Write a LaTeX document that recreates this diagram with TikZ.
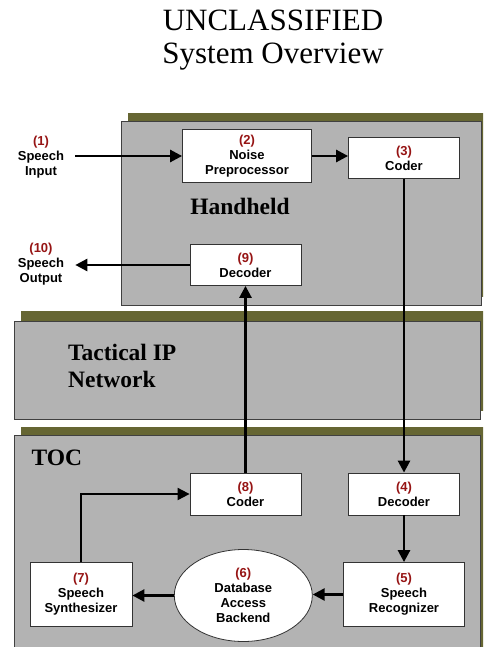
\documentclass[tikz,border=0pt]{standalone}
\usepackage{fontspec}
\setmainfont{Liberation Serif}
\setsansfont{Liberation Sans}
\usetikzlibrary{arrows.meta, shapes.geometric}
\definecolor{panelgray}{RGB}{179,179,179}
\definecolor{shadowolive}{RGB}{102,102,51}
\definecolor{numred}{RGB}{150,20,20}
\newcommand{\stepno}[1]{\textcolor{numred}{#1}}

\tikzset{
  blk/.style={draw=black!80, line width=0.8pt, fill=white, align=center,
    font=\sffamily\bfseries\fontsize{13}{15}\selectfont, inner sep=0pt},
  lbl/.style={align=center, font=\sffamily\bfseries\fontsize{13}{15}\selectfont, inner sep=0pt},
  arr/.style={line width=2.6pt, -{Triangle[length=12pt,width=12pt]}},
  panel/.style={fill=panelgray, draw=black!75, line width=0.8pt},
  shade/.style={fill=shadowolive},
  panelname/.style={font=\bfseries\fontsize{23.5}{27}\selectfont, inner sep=0pt, align=left},
}

\begin{document}
\begin{tikzpicture}[x=1pt, y=-1pt]

        \useasboundingbox (0,0) rectangle (483,647);
        \clip (0,0) rectangle (483,647);

        \node[font=\fontsize{31}{33}\selectfont, align=center, inner sep=0pt] (title) at (273,40.5) {UNCLASSIFIED\\System Overview};

        % panels
        \fill[shade] (128,113) rectangle (490,297);
        \draw[panel] (121,121) rectangle (481,305);
        \fill[shade] (21,311) rectangle (490,411);
        \draw[panel] (14,321) rectangle (480,419);
        \fill[shade] (21,427) rectangle (490,660);
        \draw[panel] (14,435) rectangle (480,660);

        \node[panelname] (hh) at (240,206) {Handheld};
        \node[panelname, anchor=west] (net) at (68,366) {Tactical IP\\Network};
        \node[panelname, anchor=west] (toc) at (31.5,458) {TOC};

        % handheld
        \node[lbl] (in1) at (41,157) {\stepno{(1)}\\Speech\\Input};
        \node[blk, minimum width=129pt, minimum height=53pt] (np) at (247,156) {\stepno{(2)}\\Noise\\Preprocessor};
        \node[blk, minimum width=111pt, minimum height=41pt] (c3) at (404,158) {\stepno{(3)}\\Coder};
        \node[blk, minimum width=111pt, minimum height=41pt] (d9) at (245.5,265) {\stepno{(9)}\\Decoder};
        \node[lbl] (out10) at (41,264) {\stepno{(10)}\\Speech\\Output};

        % TOC
        \node[blk, minimum width=111pt, minimum height=42pt] (c8) at (245.5,494) {\stepno{(8)}\\Coder};
        \node[blk, minimum width=111pt, minimum height=42pt] (d4) at (404,494) {\stepno{(4)}\\Decoder};
        \node[blk, minimum width=102pt, minimum height=64pt] (s7) at (81,594.5) {\stepno{(7)}\\Speech\\Synthesizer};
        \node[blk, ellipse, minimum width=138pt, minimum height=92pt] (db6) at (243.3,595.5) {\stepno{(6)}\\Database\\Access\\Backend};
        \node[blk, minimum width=121pt, minimum height=64pt] (s5) at (404,594.5) {\stepno{(5)}\\Speech\\Recognizer};

        \draw[arr, shorten <=11pt] (in1.east |- np.west) -- (np.west);
        \draw[arr] (np.east) -- (np.east -| c3.west);
        \draw[arr] (c3.south) -- (d4.north);
        \draw[arr] (d4.south) -- (s5.north);
        \draw[arr] (s5.west) -- (s5.west -| db6.east);
        \draw[arr] (db6.west) -- (db6.west -| s7.east);
        \draw[arr, line width=2pt] (s7.north) |- (c8.west);
        \draw[arr] (c8.north) -- (d9.south);
        \draw[arr, shorten >=11pt] (d9.west) -- (d9.west -| out10.east);

\end{tikzpicture}
\end{document}
